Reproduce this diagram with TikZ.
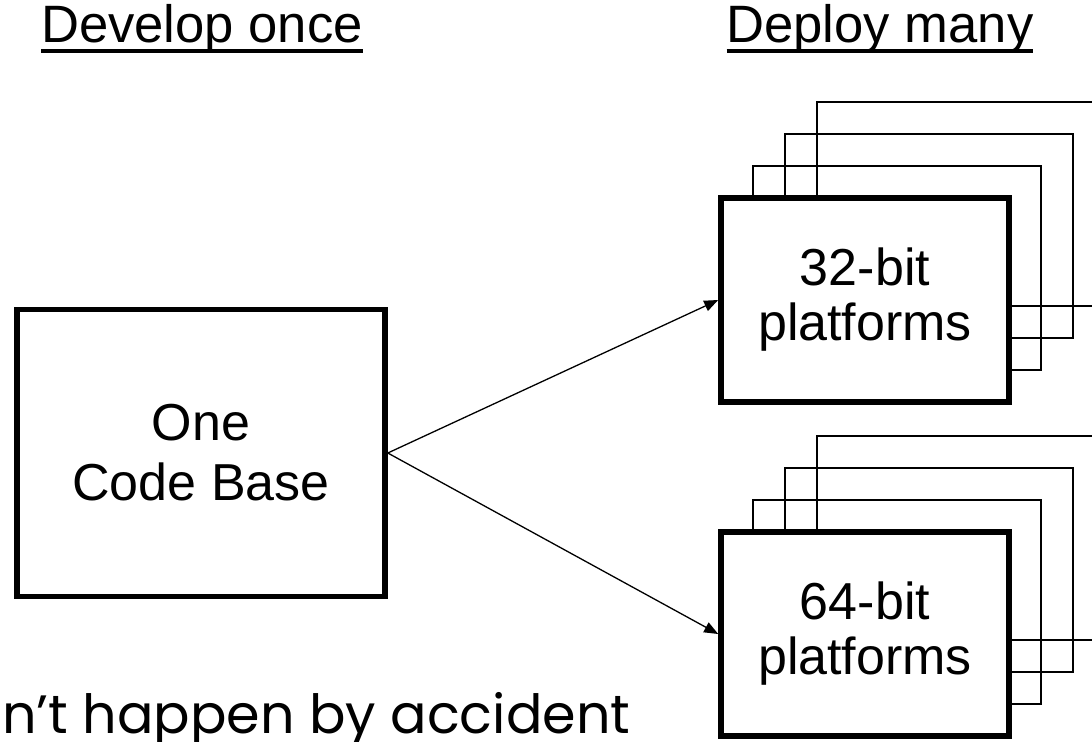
\documentclass[tikz,border=0pt]{standalone}
\usepackage{fontspec}
\setmainfont{Liberation Sans}
\newfontfamily\gothicfont{Poppins}
\usetikzlibrary{arrows.meta,positioning}

\newcommand{\headline}[1]{\setbox0\hbox{#1}\rlap{\rule[-0.2em]{\wd0}{0.06em}}\box0}

\begin{document}
\begin{tikzpicture}[
  x=0.5pt, y=-0.5pt,
  every node/.style={align=center, inner sep=0pt},
  mainbox/.style={draw, line width=2.8pt, fill=white, minimum width=144pt, minimum height=102pt, font=\fontsize{26}{27.5}\selectfont},
  codebox/.style={mainbox, minimum width=184pt, minimum height=143.5pt, font=\fontsize{26}{30}\selectfont},
  backbox/.style={draw, line width=0.85pt, minimum width=144pt, minimum height=102pt},
  header/.style={font=\fontsize{26.3}{30}\selectfont, anchor=base},
  arr/.style={-{Triangle[length=7pt, width=5.5pt]}, line width=0.65pt},
]
  \useasboundingbox (0,0) rectangle (1092,741);
  \clip (0,0) rectangle (1092,741);

  % Headers
  \node[header] (hdev) at (202,42) {\headline{Develop once}};
  \node[header] (hdep) at (880,42) {\headline{Deploy many}};

  % Code base
  \node[codebox] (code) at (201,453) {One\\Code Base};

  % 32-bit stack (copies behind)
  \coordinate (c32) at (865,300);
  \foreach \k in {3,2,1}
    \node[backbox] (b32\k) at ([shift={(32*\k,-32*\k)}]c32) {};
  \node[mainbox] (p32) at (c32) {32-bit\\platforms};

  % 64-bit stack (copies behind)
  \coordinate (c64) at (865,634);
  \foreach \k in {3,2,1}
    \node[backbox] (b64\k) at ([shift={(32*\k,-32*\k)}]c64) {};
  \node[mainbox] (p64) at (c64) {64-bit\\platforms};

  % Arrows
  \draw[arr] (code.east) -- (p32.west);
  \draw[arr] (code.east) -- (p64.west);

  % Motto
  \node[font=\gothicfont\fontsize{27}{32}\selectfont, anchor=base west] (motto) at (2,733) {n’t happen by accident};
\end{tikzpicture}
\end{document}
